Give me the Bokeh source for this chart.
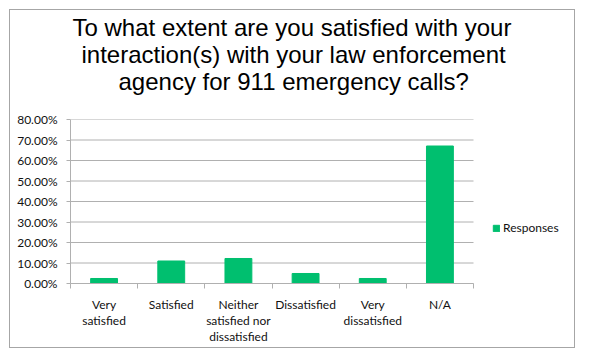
import numpy as np
from bokeh.plotting import figure
from bokeh.models import (ColumnDataSource, Range1d, FixedTicker, NumeralTickFormatter,
                          Legend, LegendItem, Title, LinearAxis)
from bokeh.embed import file_html
from bokeh.resources import INLINE

# ---- data ----
categories = ["Very\nsatisfied", "Satisfied", "Neither\nsatisfied nor\ndissatisfied",
              "Dissatisfied", "Very\ndissatisfied", "N/A"]
responses = [0.0244, 0.1098, 0.1220, 0.0488, 0.0244, 0.6707]
y_ticks = [0.0, 0.1, 0.2, 0.3, 0.4, 0.5, 0.6, 0.7, 0.8]
series_name = "Responses"
title_lines = ["To what extent are you satisfied with your",
               "interaction(s) with your law enforcement",
               "agency for 911 emergency calls?"]

GREEN = "#00BF6F"
GRID = "#b0b0b0"
TXT = "#111111"
FONT = "Lato"

n = len(categories)
centers = [i + 0.5 for i in range(n)]
bounds = list(range(n + 1))
x_end = n * 505.0 / 403.0   # plot frame extends to the right edge (legend area)

src = ColumnDataSource(dict(x=centers, top=responses, cat=categories))
grid_src = ColumnDataSource(dict(y=y_ticks, x0=[0] * len(y_ticks), x1=[n] * len(y_ticks)))

p = figure(width=566, height=339, output_backend="svg", toolbar_location=None,
           x_range=Range1d(0, x_end), y_range=Range1d(0, 0.8),
           min_border_left=60, min_border_right=1, min_border_top=109,
           min_border_bottom=66, background_fill_color="white",
           border_fill_color="white")
p.outline_line_color = None
p.styles = {"border": "1px solid #a6a6a6", "margin-left": "9px", "margin-top": "9px"}
p.title.visible = False

# horizontal gridlines limited to the category area
p.segment(x0="x0", x1="x1", y0="y", y1="y", source=grid_src, line_color=GRID, line_width=1)

r = p.vbar(x="x", top="top", width=0.4, source=src, fill_color=GREEN, line_color=GREEN)

# y axis
ya = p.left[0]
ya.ticker = FixedTicker(ticks=y_ticks)
ya.formatter = NumeralTickFormatter(format="0.00%")
ya.axis_line_color = GRID
ya.major_tick_line_color = GRID
ya.major_tick_out = 4
ya.major_tick_in = 0
ya.minor_tick_line_color = None
ya.major_label_text_font = FONT
ya.major_label_text_font_size = "12px"
ya.major_label_text_color = TXT
ya.major_label_standoff = 9

# x axis
xa = p.below[0]
xa.ticker = FixedTicker(ticks=centers, minor_ticks=bounds)
xa.bounds = (0, n)
xa.major_label_overrides = {c: lab for c, lab in zip(centers, categories)}
xa.axis_line_color = GRID
xa.major_tick_line_color = None
xa.major_tick_out = 0
xa.major_tick_in = 0
xa.minor_tick_line_color = GRID
xa.minor_tick_out = 5
xa.minor_tick_in = 0
xa.major_label_text_font = FONT
xa.major_label_text_font_size = "12px"
xa.major_label_text_color = TXT
xa.major_label_standoff = 8
xa.major_label_text_line_height = 1.07

p.xgrid.grid_line_color = None
p.ygrid.grid_line_color = None

# invisible spacer axis (blank tick, empty label) between title and plot area
spacer = LinearAxis(ticker=FixedTicker(ticks=[float(n)], minor_ticks=[]),
                    axis_line_color=None,
                    major_tick_line_color=None, minor_tick_line_color=None,
                    major_tick_out=26, major_tick_in=0, minor_tick_out=0,
                    major_label_standoff=0, major_label_text_font_size="0px",
                    major_label_overrides={float(n): ""})
p.add_layout(spacer, "above")

# title: one Title per line (bottom line added first), visually centred on the chart box
offsets = [2, 11, 48]
for line, off in reversed(list(zip(title_lines, offsets))):
    t = Title(text=line, align="left", offset=off, text_font="Liberation Sans",
              text_font_size="24px", text_font_style="normal", text_color="#000000",
              standoff=-2)
    p.add_layout(t, "above")

legend = Legend(items=[LegendItem(label=series_name, renderers=[r])],
                location=(422, 48), glyph_width=8, glyph_height=8,
                label_standoff=3, padding=2, spacing=0, margin=0,
                border_line_color=None, background_fill_alpha=0,
                label_text_font=FONT, label_text_font_size="12px",
                label_text_color=TXT)
p.add_layout(legend, "center")

open("out.html", "w").write(file_html(p, INLINE))
